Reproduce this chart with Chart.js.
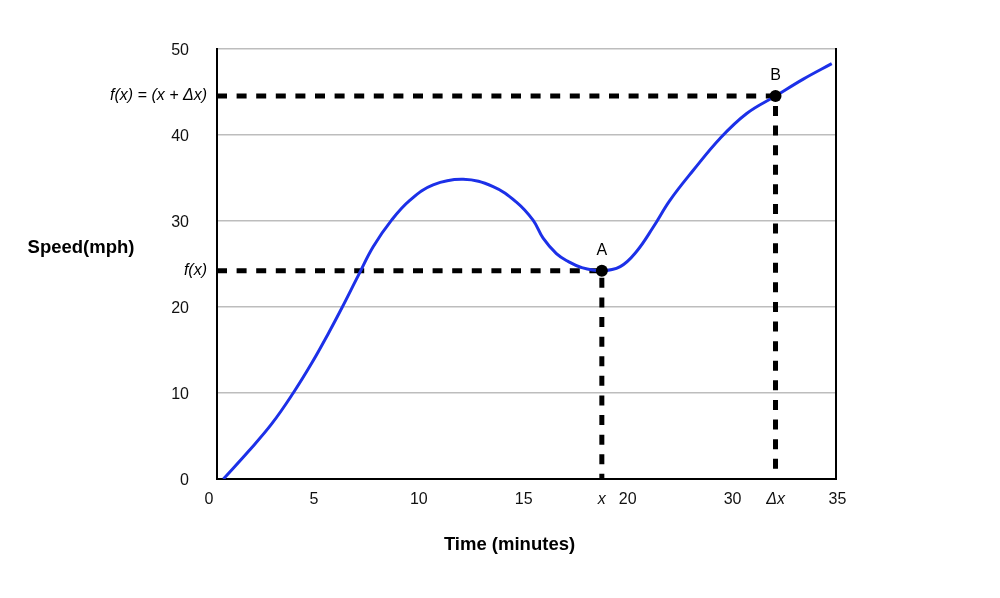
<!DOCTYPE html>
<html>
<head>
<meta charset="utf-8">
<script src="https://cdn.jsdelivr.net/npm/chart.js@4"></script>
<style>
  html, body { margin: 0; padding: 0; background: #fff; }
  #wrap { width: 1000px; height: 598px; }
</style>
</head>
<body>
<div id="wrap"><canvas id="c" width="1000" height="598"></canvas></div>
<script>
// ---- data (x in plot units along the 0..35 axis, y in mph) ----
const curveX = [0.36, 1.77, 3.09, 4.31, 5.35, 6.29, 7.05, 8.0, 8.83, 9.87, 10.9, 12.22, 13.92, 15.61, 16.93, 17.87, 18.44, 19.19, 19.85, 20.6, 21.76, 22.8, 23.7, 24.67, 25.61, 26.93, 28.44, 29.95, 31.58, 33.15, 34.76];
const curveY = [0, 3.2, 6.4, 10.0, 13.45, 16.9, 19.85, 23.7, 27.0, 30.1, 32.4, 34.2, 34.85, 34.0, 32.2, 30.1, 28.0, 26.2, 25.3, 24.6, 24.22, 24.7, 26.4, 29.3, 32.4, 35.9, 39.6, 42.5, 44.53, 46.5, 48.3];

const pointNames = ['A', 'B'];
const pointX = [21.76, 31.58];
const pointY = [24.22, 44.53];
const levelLabels = ['f(x)', 'f(x) = (x + \u0394x)'];

const xTickPos = [-0.45, 5.48, 11.41, 17.34, 23.22, 29.15, 35.08, 21.76, 31.58];
const xTickLabels = ['0', '5', '10', '15', '20', '30', '35', 'x', '\u0394x'];
const yMin = 0, yMax = 50, yStep = 10;

const xTitle = 'Time (minutes)';
const yTitle = 'Speed(mph)';

const FONT = '"Liberation Sans", Arial, Helvetica, sans-serif';

// guide (dashed) polylines built from the marked points
const guideSets = pointX.map((px, i) => ({
  type: 'line',
  data: [{x: 0, y: pointY[i]}, {x: px, y: pointY[i]}, {x: px, y: 0}],
  borderColor: '#000',
  borderWidth: 5,
  borderDash: [10, 9.6],
  borderCapStyle: 'butt',
  pointRadius: 0,
  tension: 0,
  yAxisID: 'y',
  xAxisID: 'x'
}));

const annot = {
  id: 'annot',
  afterDatasetsDraw(chart) {
    const {ctx, scales: {x, y}} = chart;
    ctx.save();
    ctx.fillStyle = '#000';
    ctx.textBaseline = 'middle';
    ctx.textAlign = 'center';
    ctx.font = '16px ' + FONT;
    pointNames.forEach((n, i) => {
      ctx.fillText(n, x.getPixelForValue(pointX[i]), y.getPixelForValue(pointY[i]) - 20);
    });
    ctx.textAlign = 'right';
    ctx.font = 'italic 16px ' + FONT;
    levelLabels.forEach((t, i) => {
      ctx.fillText(t, x.left - 10, y.getPixelForValue(pointY[i]));
    });
    ctx.textAlign = 'center';
    ctx.font = 'bold 18.5px ' + FONT;
    ctx.fillText(yTitle, 81, 248);
    ctx.fillText(xTitle, 509.5, 545);
    ctx.restore();
  }
};

new Chart(document.getElementById('c'), {
  type: 'line',
  data: {
    datasets: [
      {
        type: 'scatter',
        data: pointX.map((v, i) => ({x: v, y: pointY[i]})),
        pointRadius: 6,
        pointBackgroundColor: '#000',
        pointBorderColor: '#000',
        pointBorderWidth: 0,
        showLine: false,
        yAxisID: 'y', xAxisID: 'x'
      },
      {
        data: curveX.map((v, i) => ({x: v, y: curveY[i]})),
        borderColor: 'rgb(28,48,232)',
        borderWidth: 3,
        pointRadius: 0,
        tension: 0.4,
        fill: false,
        yAxisID: 'y', xAxisID: 'x'
      },
      ...guideSets
    ]
  },
  options: {
    responsive: false,
    animation: false,
    devicePixelRatio: 1,
    layout: { padding: { top: 49, right: 164, left: 0, bottom: 0 } },
    plugins: { legend: { display: false }, tooltip: { enabled: false } },
    scales: {
      x: {
        type: 'linear',
        min: 0, max: 35,
        afterBuildTicks: (s) => { s.ticks = xTickPos.map(v => ({value: v})); },
        afterFit: (s) => { s.height = 119; },
        grid: { display: false },
        border: { display: true, color: '#000', width: 2 },
        ticks: {
          autoSkip: false,
          maxRotation: 0,
          padding: 3,
          color: '#111',
          font: (ctx) => ({ family: FONT, size: 16, style: ctx.index >= 7 ? 'italic' : 'normal' }),
          callback: (v, i) => xTickLabels[i]
        }
      },
      y: {
        type: 'linear',
        position: 'left',
        min: yMin, max: yMax,
        afterFit: (s) => { s.width = 217; },
        grid: { color: '#bdbdbd', lineWidth: 1.5, drawTicks: false },
        border: { display: true, color: '#000', width: 2 },
        ticks: { stepSize: yStep, padding: 28, labelOffset: 2, color: '#111', font: { family: FONT, size: 16 } }
      },
      yR: {
        type: 'linear',
        position: 'right',
        min: yMin, max: yMax,
        afterFit: (s) => { s.width = 0; },
        grid: { display: false },
        border: { display: true, color: '#000', width: 2 },
        ticks: { display: false }
      }
    }
  },
  plugins: [annot]
});
</script>
</body>
</html>
